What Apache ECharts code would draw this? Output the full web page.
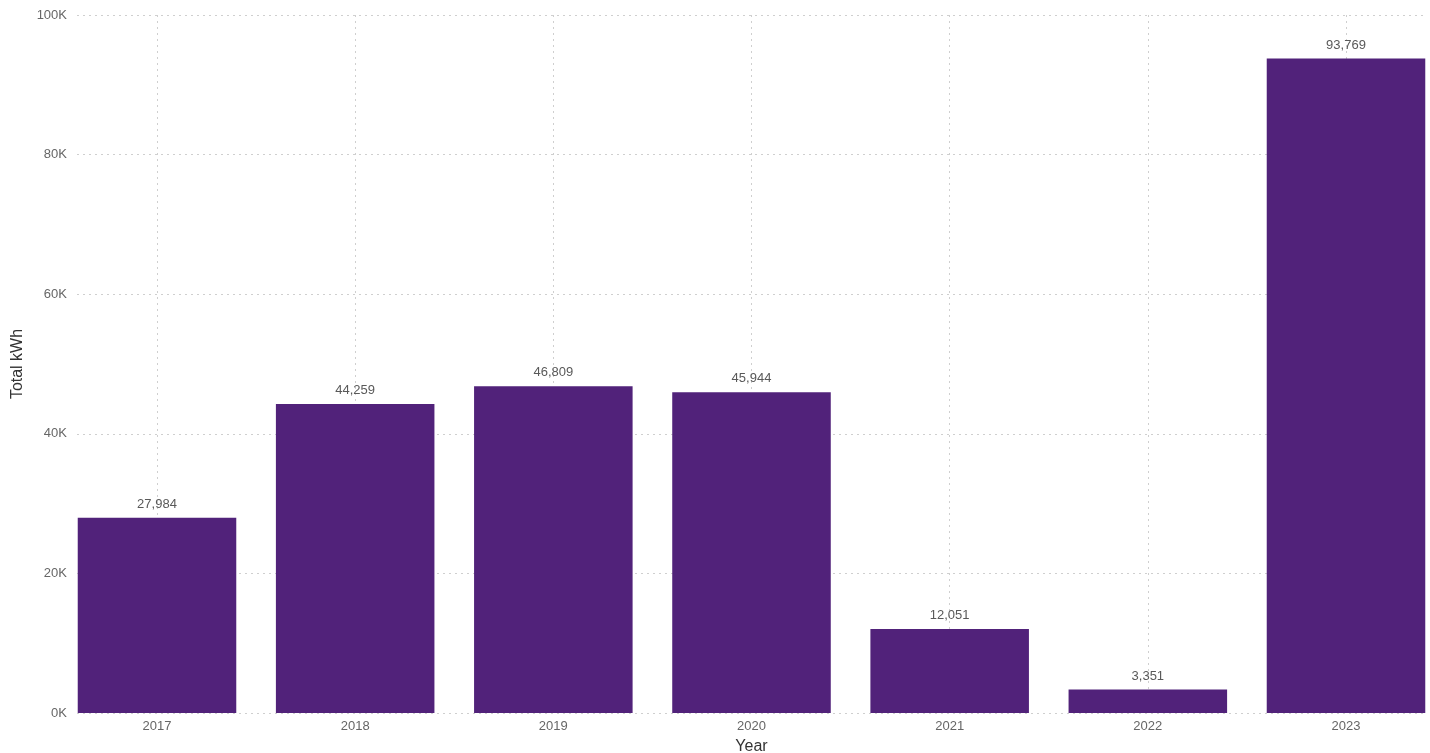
<!DOCTYPE html>
<html>
<head>
<meta charset="utf-8">
<script src="https://cdn.jsdelivr.net/npm/echarts@6/dist/echarts.min.js"></script>
<style>
html,body{margin:0;padding:0;background:#fff;}
#chart{width:1430px;height:753px;}
</style>
</head>
<body>
<div id="chart"></div>
<script>
const years = ['2017', '2018', '2019', '2020', '2021', '2022', '2023'];
const totalKWh = [27984, 44259, 46809, 45944, 12051, 3351, 93769];
const yTicks = [0, 20000, 40000, 60000, 80000, 100000];

const FONT = 'Liberation Sans, Arial, sans-serif';
const chart = echarts.init(document.getElementById('chart'), null, {renderer: 'canvas'});
const gridLine = {show: true, lineStyle: {color: '#cfcfcf', type: [2, 4], width: 1}};

chart.setOption({
  animation: false,
  textStyle: {fontFamily: FONT},
  grid: [
    {left: 157, right: 84, top: 15, bottom: 40, containLabel: false, outerBoundsMode: 'none'},
    {left: 77, right: 4, top: 15, bottom: 40, containLabel: false, outerBoundsMode: 'none'}
  ],
  xAxis: [
    {
      type: 'category', gridIndex: 0, data: years, boundaryGap: false,
      axisLine: {show: false}, axisTick: {show: false},
      axisLabel: {color: '#666', fontSize: 13, margin: 7, fontFamily: FONT},
      splitLine: gridLine,
      name: 'Year', nameLocation: 'middle', nameGap: 26,
      nameTextStyle: {color: '#333', fontSize: 16, fontFamily: FONT}
    },
    {type: 'value', gridIndex: 1, min: 0, max: 1, show: false}
  ],
  yAxis: [
    {type: 'value', gridIndex: 0, min: 0, max: yTicks[yTicks.length - 1], interval: 20000, show: false},
    {
      type: 'value', gridIndex: 1, min: 0, max: yTicks[yTicks.length - 1], interval: 20000,
      axisLine: {show: false}, axisTick: {show: false},
      axisLabel: {color: '#666', fontSize: 13, margin: 10, fontFamily: FONT,
        formatter: v => (v / 1000) + 'K'},
      splitLine: gridLine,
      name: 'Total kWh', nameLocation: 'middle', nameGap: 50, nameRotate: 90,
      nameTextStyle: {color: '#333', fontSize: 16, fontFamily: FONT}
    }
  ],
  series: [{
    type: 'bar', xAxisIndex: 0, yAxisIndex: 0,
    data: totalKWh, barWidth: '80%', clip: false,
    itemStyle: {color: '#51227a'},
    label: {show: true, position: 'top', distance: 7, color: '#595959', fontSize: 13, fontFamily: FONT,
      formatter: p => p.value.toLocaleString('en-US')}
  }]
});
</script>
</body>
</html>
